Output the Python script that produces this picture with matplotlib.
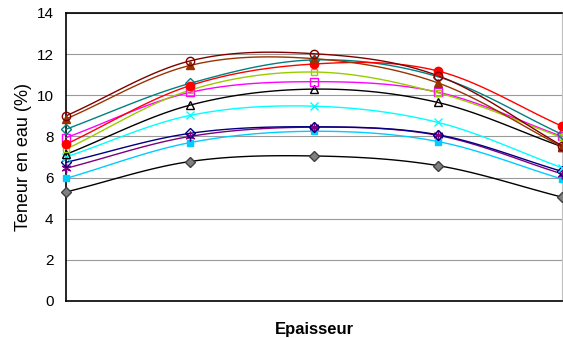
import numpy as np
import matplotlib
matplotlib.use('Agg')
import matplotlib.pyplot as plt

# positions le long de l'epaisseur (pas de libelles sur l'axe)
positions = [0, 1, 2, 3, 4]

# teneur en eau (%) par serie
s_brun_rond = [9.0, 11.67, 12.02, 10.95, 7.55]
s_sienne_tri = [8.85, 11.45, 11.78, 10.6, 7.5]
s_sarcelle = [8.35, 10.58, 11.72, 10.9, 8.1]
s_rouge = [7.62, 10.47, 11.52, 11.18, 8.5]
s_vert = [7.38, 10.25, 11.13, 10.12, 7.95]
s_magenta = [7.94, 10.14, 10.66, 10.15, 8.0]
s_noir_tri = [7.13, 9.52, 10.3, 9.65, 7.5]
s_cyan = [7.0, 9.02, 9.47, 8.68, 6.48]
s_marine = [6.74, 8.15, 8.47, 8.08, 6.3]
s_violet = [6.45, 8.0, 8.45, 8.05, 6.18]
s_bleu = [5.96, 7.7, 8.25, 7.75, 5.93]
s_gris = [5.3, 6.78, 7.05, 6.58, 5.05]

series = [
    (s_gris, '#000000', 'D', '#808080', 5),
    (s_bleu, '#00CCFF', 's', '#00CCFF', 5),
    (s_violet, '#800080', (6, 2, 0), '#800080', 7),
    (s_marine, '#000080', 'D', 'none', 5),
    (s_cyan, '#00FFFF', 'x', '#00FFFF', 6),
    (s_noir_tri, '#000000', '^', 'none', 6),
    (s_magenta, '#FF00FF', 's', 'none', 6),
    (s_vert, '#99CC00', 's', 'none', 4),
    (s_sarcelle, '#008080', 'D', 'none', 5),
    (s_rouge, '#FF0000', 'o', '#FF0000', 6),
    (s_sienne_tri, '#993300', '^', '#993300', 6),
    (s_brun_rond, '#800000', 'o', 'none', 6),
]


def lisse(x, y, n=30):
    # courbe lissee type Catmull-Rom (comme "lignes lissees" d'Excel)
    x = np.asarray(x, float)
    y = np.asarray(y, float)
    px = np.concatenate([[2 * x[0] - x[1]], x, [2 * x[-1] - x[-2]]])
    py = np.concatenate([[2 * y[0] - y[1]], y, [2 * y[-1] - y[-2]]])
    xs, ys = [], []
    t = np.linspace(0, 1, n)
    for i in range(1, len(px) - 2):
        for p, out in ((px, xs), (py, ys)):
            p0, p1, p2, p3 = p[i - 1], p[i], p[i + 1], p[i + 2]
            out.extend(0.5 * (2 * p1 + (-p0 + p2) * t
                              + (2 * p0 - 5 * p1 + 4 * p2 - p3) * t ** 2
                              + (-p0 + 3 * p1 - 3 * p2 + p3) * t ** 3))
    return xs, ys


fig = plt.figure(figsize=(5.63, 3.38), dpi=100)
ax = fig.add_axes([66 / 563, 1 - 301 / 338, 496 / 563, 288 / 338])

for vals, col, mk, fc, ms in series:
    xs, ys = lisse(positions, vals)
    ax.plot(xs, ys, color=col, lw=1.0, clip_on=False, zorder=3)
    ax.plot(positions, vals, ls='none', marker=mk, color=col, mfc=fc,
            mec=col if mk != 'D' or fc == 'none' else '#404040',
            ms=ms, mew=1.0, clip_on=False, zorder=4)

ax.set_xlim(0, 4)
ax.set_ylim(0, 14)
ax.set_yticks(range(0, 15, 2))
ax.set_xticks([])
ax.yaxis.grid(True, color='#9a9a9a', lw=0.8)
ax.set_axisbelow(True)
ax.tick_params(axis='y', length=0, pad=9, labelsize=11)
for lab in ax.get_yticklabels():
    lab.set_family('Liberation Sans')
for s in ['left', 'bottom', 'top']:
    ax.spines[s].set_color('black')
    ax.spines[s].set_linewidth(1.2)
ax.spines['right'].set_color('#c0c0c0')
ax.spines['right'].set_linewidth(0.8)

ax.set_ylabel('Teneur en eau (%)', fontsize=13, family='Liberation Sans', labelpad=3)
ax.set_xlabel('Epaisseur', fontsize=12, fontweight='bold', family='Liberation Sans', labelpad=15)

fig.savefig('out.png', dpi=100)
